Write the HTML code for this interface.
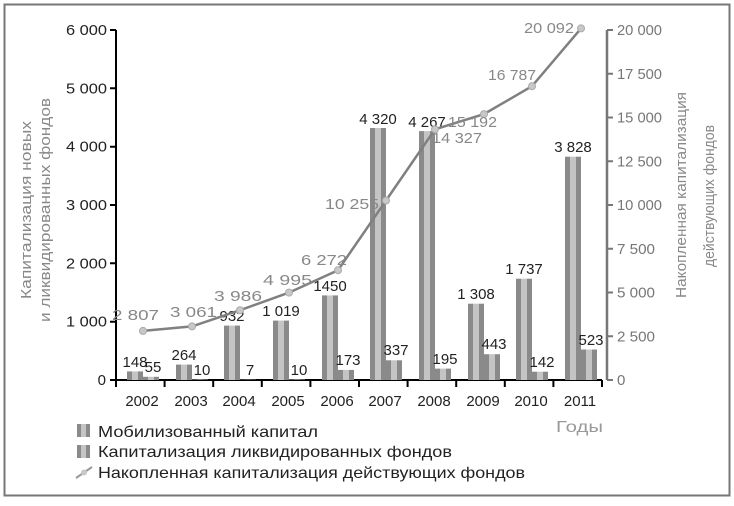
<!DOCTYPE html><html><head><meta charset="utf-8"><style>body{margin:0;background:#fff}svg{display:block;font-family:"Liberation Sans",sans-serif}</style></head><body>
<svg width="734" height="506" viewBox="0 0 734 506" xmlns="http://www.w3.org/2000/svg">
<defs>
<linearGradient id="b" x1="0" x2="1"><stop offset="0" stop-color="#8a8a8a"/><stop offset="0.3" stop-color="#8a8a8a"/><stop offset="0.3" stop-color="#c4c4c4"/><stop offset="0.7" stop-color="#c4c4c4"/><stop offset="0.7" stop-color="#8a8a8a"/></linearGradient>
</defs>
<rect x="4.5" y="4.5" width="725" height="491" fill="none" stroke="#777" stroke-width="2"/>
<path d="M116 30V380H602" fill="none" stroke="#000" stroke-width="2"/>
<path d="M607 30V380" stroke="#777" stroke-width="2.5"/>
<g stroke="#000" stroke-width="2">
<path d="M110 380H116M110 321.7H116M110 263.3H116M110 205H116M110 146.7H116M110 88.3H116M110 30H116"/>
<path d="M116 380V387M164.6 380V387M213.2 380V387M261.8 380V387M310.4 380V387M359 380V387M407.6 380V387M456.2 380V387M504.8 380V387M553.4 380V387M602 380V387"/>
</g>
<path stroke="#777" stroke-width="2" d="M607 380H613M607 336.25H613M607 292.5H613M607 248.75H613M607 205H613M607 161.25H613M607 117.5H613M607 73.75H613M607 30H613"/>
<g font-size="15" fill="#222" text-anchor="end" lengthAdjust="spacingAndGlyphs">
<text x="106" y="385">0</text><text x="107" y="326.7" textLength="41" lengthAdjust="spacingAndGlyphs">1 000</text><text x="107" y="268.3" textLength="41" lengthAdjust="spacingAndGlyphs">2 000</text><text x="107" y="210" textLength="41" lengthAdjust="spacingAndGlyphs">3 000</text><text x="107" y="151.7" textLength="41" lengthAdjust="spacingAndGlyphs">4 000</text><text x="107" y="93.3" textLength="41" lengthAdjust="spacingAndGlyphs">5 000</text><text x="107" y="35" textLength="41" lengthAdjust="spacingAndGlyphs">6 000</text>
</g>
<g font-size="15" fill="#777">
<text x="617" y="385">0</text><text x="617" y="341.25" textLength="38" lengthAdjust="spacingAndGlyphs">2 500</text><text x="617" y="297.5" textLength="38" lengthAdjust="spacingAndGlyphs">5 000</text><text x="617" y="253.75" textLength="38" lengthAdjust="spacingAndGlyphs">7 500</text><text x="617" y="210" textLength="45" lengthAdjust="spacingAndGlyphs">10 000</text><text x="617" y="166.25" textLength="45" lengthAdjust="spacingAndGlyphs">12 500</text><text x="617" y="122.5" textLength="45" lengthAdjust="spacingAndGlyphs">15 000</text><text x="617" y="78.75" textLength="45" lengthAdjust="spacingAndGlyphs">17 500</text><text x="617" y="35" textLength="45" lengthAdjust="spacingAndGlyphs">20 000</text>
</g>
<g fill="url(#b)">
<rect x="127" y="371.4" width="16" height="8.6"/><rect x="143" y="376.8" width="16" height="3.2"/>
<rect x="176" y="364.6" width="16" height="15.4"/><rect x="192" y="379.4" width="16" height="0.6"/>
<rect x="224" y="325.6" width="16" height="54.4"/><rect x="240" y="379.6" width="16" height="0.4"/>
<rect x="273" y="320.6" width="16" height="59.4"/><rect x="289" y="379.4" width="16" height="0.6"/>
<rect x="322" y="295.4" width="16" height="84.6"/><rect x="338" y="369.9" width="16" height="10.1"/>
<rect x="370" y="128" width="16" height="252"/><rect x="386" y="360.3" width="16" height="19.7"/>
<rect x="419" y="131.1" width="16" height="248.9"/><rect x="435" y="368.6" width="16" height="11.4"/>
<rect x="468" y="303.7" width="16" height="76.3"/><rect x="484" y="354.2" width="16" height="25.8"/>
<rect x="516" y="278.7" width="16" height="101.3"/><rect x="532" y="371.7" width="16" height="8.3"/>
<rect x="565" y="156.7" width="16" height="223.3"/><rect x="581" y="349.5" width="16" height="30.5"/>
</g>
<g font-size="15" fill="#222" text-anchor="middle">
<text x="135" y="367">148</text><text x="153" y="372">55</text>
<text x="184" y="360">264</text><text x="202" y="375">10</text>
<text x="232" y="321">932</text><text x="250" y="375">7</text>
<text x="281" y="316">1 019</text><text x="299" y="375">10</text>
<text x="330" y="291">1450</text><text x="348" y="365">173</text>
<text x="378" y="124">4 320</text><text x="396" y="355">337</text>
<text x="427" y="127">4 267</text><text x="445" y="364">195</text>
<text x="476" y="299">1 308</text><text x="494" y="349">443</text>
<text x="524" y="274">1 737</text><text x="542" y="367">142</text>
<text x="573" y="152">3 828</text><text x="591" y="345">523</text>
</g>
<g font-size="15" fill="#222" text-anchor="middle">
<text x="142" y="406">2002</text><text x="191" y="406">2003</text><text x="239" y="406">2004</text><text x="288" y="406">2005</text><text x="337" y="406">2006</text><text x="385" y="406">2007</text><text x="434" y="406">2008</text><text x="483" y="406">2009</text><text x="531" y="406">2010</text><text x="580" y="406">2011</text>
</g>
<polyline points="143,330.9 192,326.4 240,310.2 289,292.6 338,270.2 386,200.5 435,129.3 484,114.1 532,86.2 581,28.4" fill="none" stroke="#808080" stroke-width="2.5"/>
<g fill="#c8c8c8" stroke="#aaa">
<circle cx="143" cy="330.9" r="3.5"/><circle cx="192" cy="326.4" r="3.5"/><circle cx="240" cy="310.2" r="3.5"/><circle cx="289" cy="292.6" r="3.5"/><circle cx="338" cy="270.2" r="3.5"/><circle cx="386" cy="200.5" r="3.5"/><circle cx="435" cy="129.3" r="3.5"/><circle cx="484" cy="114.1" r="3.5"/><circle cx="532" cy="86.2" r="3.5"/><circle cx="581" cy="28.4" r="3.5"/>
</g>
<g font-size="15" fill="#888">
<text x="112" y="320" textLength="47" lengthAdjust="spacingAndGlyphs">2 807</text><text x="170" y="317" textLength="47" lengthAdjust="spacingAndGlyphs">3 061</text><text x="214" y="301" textLength="48" lengthAdjust="spacingAndGlyphs">3 986</text><text x="263" y="285" textLength="49" lengthAdjust="spacingAndGlyphs">4 995</text><text x="301" y="265" textLength="46" lengthAdjust="spacingAndGlyphs">6 272</text><text x="325" y="209" textLength="54" lengthAdjust="spacingAndGlyphs">10 255</text><text x="432" y="143" textLength="50" lengthAdjust="spacingAndGlyphs">14 327</text><text x="448" y="127" textLength="49" lengthAdjust="spacingAndGlyphs">15 192</text><text x="488" y="80" textLength="48" lengthAdjust="spacingAndGlyphs">16 787</text><text x="524" y="33" textLength="50" lengthAdjust="spacingAndGlyphs">20 092</text>
</g>
<text x="556" y="432" font-size="16" fill="#999" textLength="47" lengthAdjust="spacingAndGlyphs">Годы</text>
<text transform="translate(31,210) rotate(-90)" text-anchor="middle" font-size="15" fill="#888" textLength="178" lengthAdjust="spacingAndGlyphs">Капитализация новых</text>
<text transform="translate(50,210) rotate(-90)" text-anchor="middle" font-size="15" fill="#888" textLength="224" lengthAdjust="spacingAndGlyphs">и ликвидированных фондов</text>
<text transform="translate(686,195) rotate(-90)" text-anchor="middle" font-size="15" fill="#888" textLength="206" lengthAdjust="spacingAndGlyphs">Накопленная капитализация</text>
<text transform="translate(714,196) rotate(-90)" text-anchor="middle" font-size="15" fill="#888" textLength="142" lengthAdjust="spacingAndGlyphs">действующих фондов</text>
<rect x="77" y="424" width="13" height="13" fill="url(#b)"/><text x="98" y="437" font-size="16" fill="#222" textLength="220" lengthAdjust="spacingAndGlyphs">Мобилизованный капитал</text>
<rect x="77" y="445" width="13" height="13" fill="url(#b)"/><text x="98" y="457" font-size="16" fill="#222" textLength="354" lengthAdjust="spacingAndGlyphs">Капитализация ликвидированных фондов</text>
<path d="M76 478L92 467" stroke="#999" stroke-width="2"/><circle cx="84" cy="472.5" r="3" fill="#c8c8c8"/><text x="98" y="478" font-size="16" fill="#222" textLength="427" lengthAdjust="spacingAndGlyphs">Накопленная капитализация действующих фондов</text>
</svg></body></html>
